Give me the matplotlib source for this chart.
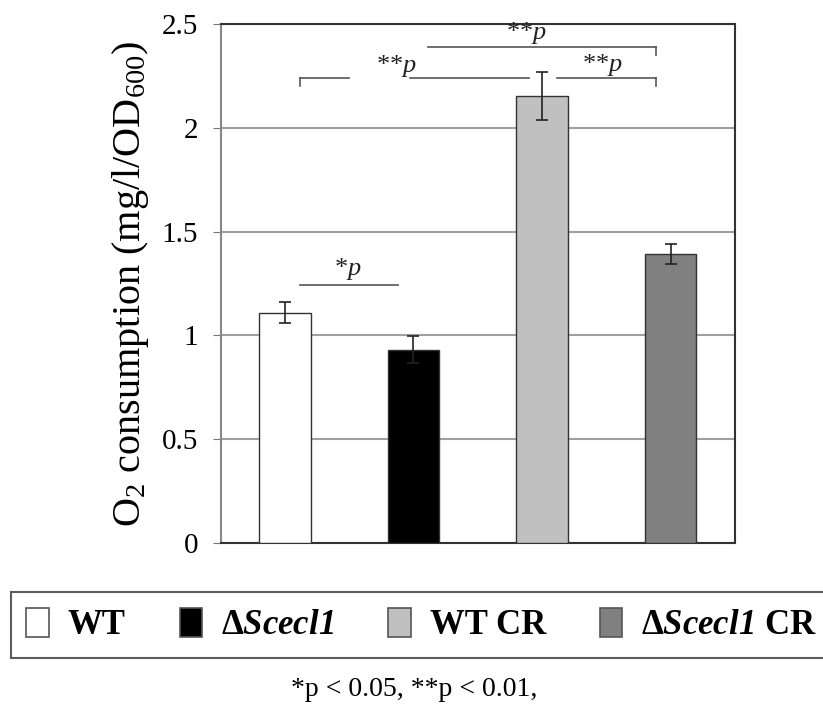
import matplotlib.pyplot as plt
import matplotlib.patches as mpatches
import numpy as np

plt.rcParams['font.family'] = ['Liberation Serif', 'DejaVu Serif']
plt.rcParams['mathtext.fontset'] = 'custom'
plt.rcParams['mathtext.rm'] = 'Liberation Serif'
plt.rcParams['mathtext.it'] = 'Liberation Serif:italic'
plt.rcParams['mathtext.bf'] = 'Liberation Serif:bold'
plt.rcParams['mathtext.bfit'] = 'Liberation Serif:bold:italic'

# data
groups = ['WT', 'ΔScecl1', 'WT CR', 'ΔScecl1 CR']
legend_labels = ['WT', r'$\mathbf{\Delta}\mathbfit{Scecl1}$',
                 'WT CR', r'$\mathbf{\Delta}\mathbfit{Scecl1}$ CR']
o2_mean = [1.11, 0.93, 2.155, 1.39]
o2_err = [0.05, 0.065, 0.115, 0.048]
colors = ['white', 'black', '#c0c0c0', '#808080']

# significance brackets: line segments (x0, x1, y), ticks (x, y_top, y_bottom), labels
bracket_lines = [(0.12, 0.88, 1.245),
                 (0.12, 0.50, 2.24), (0.97, 1.90, 2.24), (2.12, 2.89, 2.24),
                 (1.11, 2.89, 2.39)]
bracket_ticks = [(0.12, 2.24, 2.20), (2.89, 2.24, 2.20), (2.89, 2.39, 2.35)]
sig_labels = [(0.49, 1.255, '*'), (0.87, 2.235, '**'), (2.47, 2.24, '**'), (1.88, 2.395, '**')]

fig = plt.figure(figsize=(8.23, 7.15), dpi=100)
ax = fig.add_axes([0.268, 0.2406, 0.625, 0.7258])

x = np.arange(len(groups))
ax.bar(x, o2_mean, width=0.40, color=colors, edgecolor='#333333', linewidth=1.0, zorder=3)
ax.errorbar(x, o2_mean, yerr=o2_err, fmt='none', ecolor='#222222', elinewidth=1.2,
            capsize=4, capthick=1.2, zorder=4)

for x0, x1, y in bracket_lines:
    ax.plot([x0, x1], [y, y], color='#555555', lw=1.2, zorder=3)
for xt, y0, y1 in bracket_ticks:
    ax.plot([xt, xt], [y0, y1], color='#555555', lw=1.2, zorder=3)
for xs, ys, stars in sig_labels:
    ax.text(xs, ys, stars + r'$\mathit{p}$', ha='center', va='bottom', fontsize=19,
            color='#222222', zorder=5)

ax.set_xlim(-0.5, 3.5)
ax.set_ylim(0, 2.5)
ax.set_yticks([0, 0.5, 1, 1.5, 2, 2.5])
ax.set_yticklabels(['0', '0.5', '1', '1.5', '2', '2.5'], fontsize=21)
ax.set_xticks([])
ax.yaxis.grid(True, color='#a0a0a0', lw=1.5, zorder=0)
ax.set_axisbelow(True)
ax.tick_params(axis='y', length=6, color='#777777', pad=10)
for s in ax.spines.values():
    s.set_color('#333333')
    s.set_linewidth(1.5)
ax.spines['left'].set_color('#888888')
ax.set_ylabel(r'O$_2$ consumption (mg/l/OD$_{600}$)', fontsize=29, labelpad=8)

handles = [mpatches.Patch(facecolor=c, edgecolor='#555555', linewidth=1.2) for c in colors]
leg = fig.legend(handles, legend_labels, loc='center left', ncol=4,
                 bbox_to_anchor=(0.013, 1 - 625 / 715),
                 prop={'family': 'Liberation Serif', 'weight': 'bold', 'size': 25},
                 frameon=True, fancybox=False, edgecolor='#333333',
                 handlelength=0.65, handleheight=0.95, handletextpad=0.55,
                 columnspacing=1.55, borderpad=0.45, borderaxespad=0)
leg.get_frame().set_linewidth(1.5)

fig.text(0.503, 1 - 690 / 715, '*p < 0.05, **p < 0.01,', ha='center', va='center', fontsize=20)

fig.savefig('out.png', dpi=100)
